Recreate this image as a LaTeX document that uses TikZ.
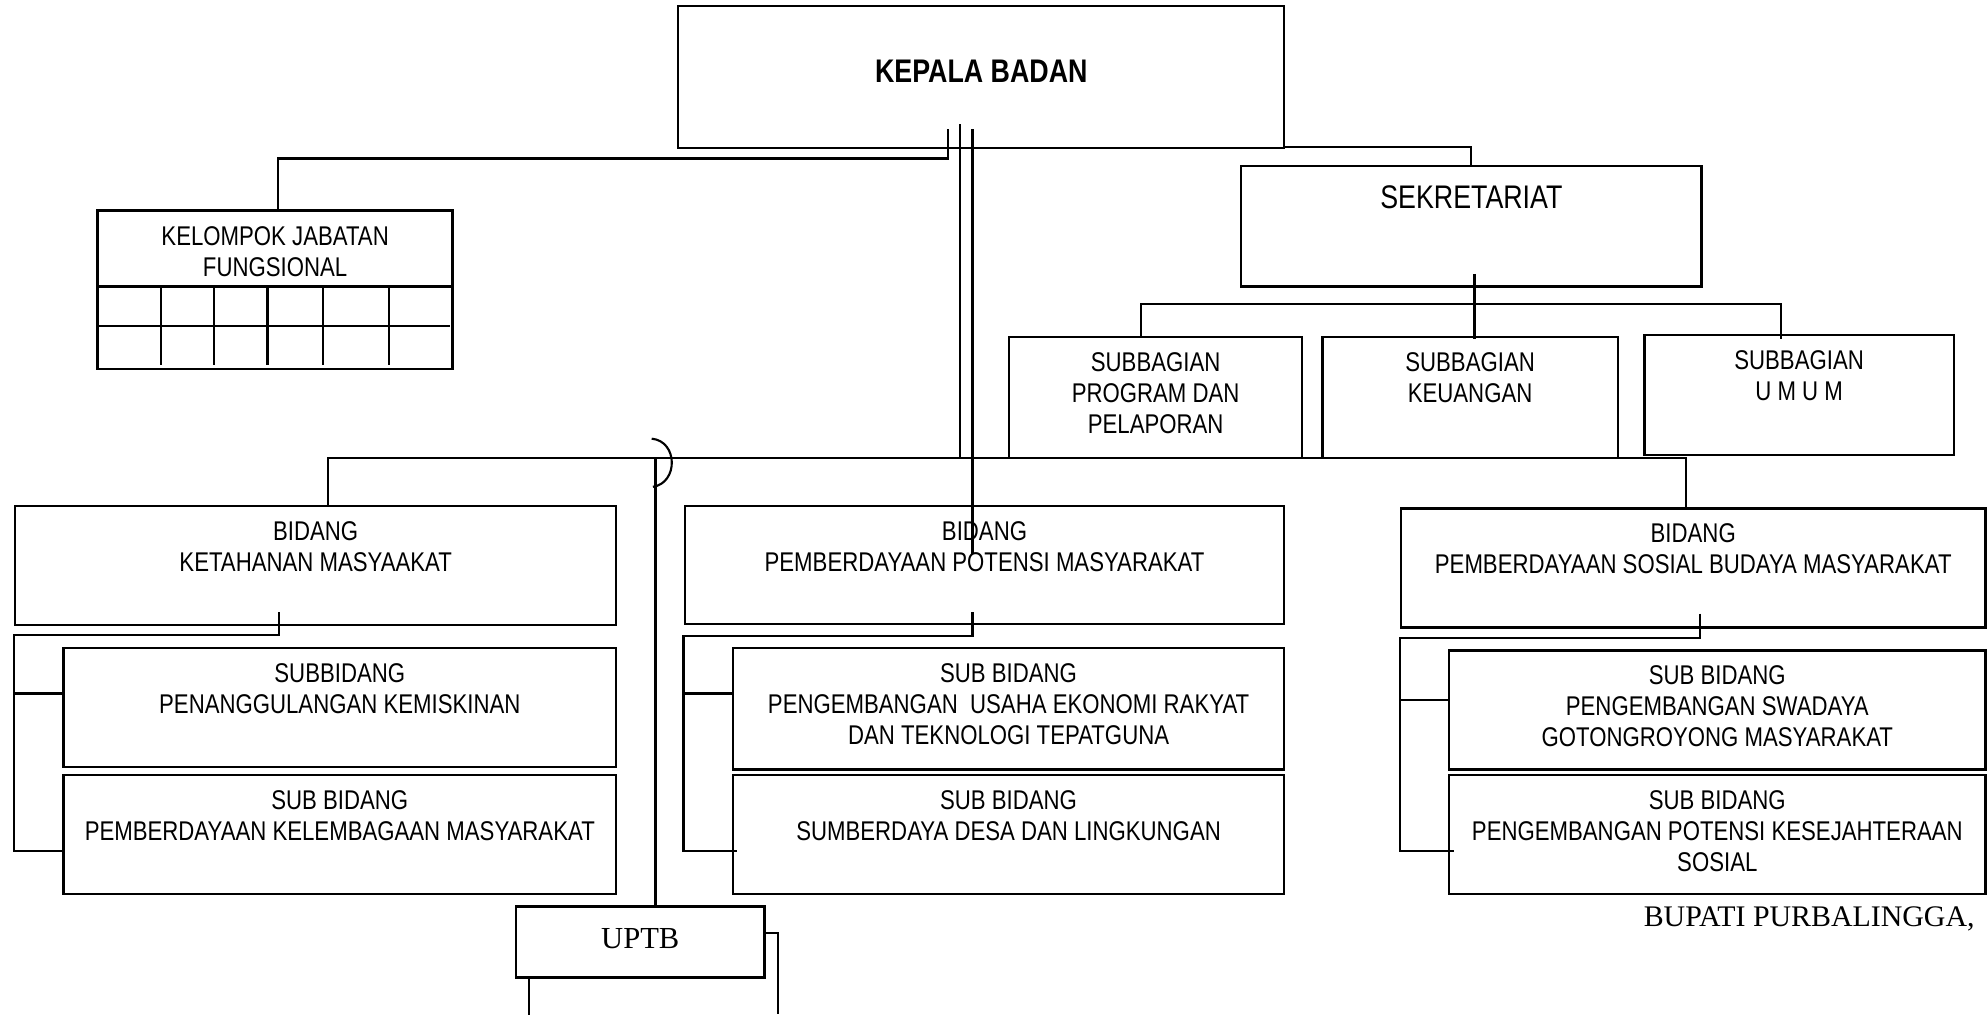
\documentclass[tikz,border=0pt]{standalone}
\usepackage{fontspec}
\setmainfont{Liberation Sans}[FakeStretch=0.82]
\newfontfamily\serifface{Liberation Serif}
\usetikzlibrary{calc,positioning,fit}

\tikzset{
  unit/.style={draw, inner sep=0pt, line width=0.65pt},
  caption/.style={align=center, inner sep=0pt, font=\fontsize{7.7}{8.84}\selectfont},
  link/.style={line width=0.6pt},
}

\begin{document}
\begin{tikzpicture}[x=0.012679cm, y=-0.012679cm]
  \useasboundingbox (0,0) rectangle (1568,800);

  % boxes
  \node[unit, fit={(535,5) (1013,117)}] (kepala) {};
  \node[unit, fit={(77,166) (357,291)}] (kelompok) {};
  \node[unit, fit={(979,131) (1342,226)}] (sekretariat) {};
  \node[unit, fit={(796,266) (1027,361)}] (program) {};
  \node[unit, fit={(1043,266) (1276,361)}] (keuangan) {};
  \node[unit, fit={(1297,264) (1541,359)}] (umum) {};
  \node[unit, fit={(12,399) (486,493)}] (ketahanan) {};
  \node[unit, fit={(540,399) (1013,492)}] (potensi) {};
  \node[unit, fit={(1105,401) (1566,495)}] (sosial) {};
  \node[unit, fit={(50,511) (486,605)}] (subK1) {};
  \node[unit, fit={(50,611) (486,705)}] (subK2) {};
  \node[unit, fit={(578,511) (1013,607)}] (subP1) {};
  \node[unit, fit={(578,611) (1013,705)}] (subP2) {};
  \node[unit, fit={(1143,513) (1566,607)}] (subS1) {};
  \node[unit, fit={(1143,611) (1566,705)}] (subS2) {};
  \node[unit, fit={(407,715) (603,771)}] (uptb) {};

  % texts
  \node[caption, font=\fontsize{9.3}{10.6}\selectfont\bfseries, below=5.4mm of kepala.north] (kepalaT) {KEPALA BADAN};
  \node[caption, below=1.7mm of kelompok.north] (kelompokT) {KELOMPOK JABATAN\\FUNGSIONAL};
  \node[caption, font=\fontsize{9.3}{10.6}\selectfont, below=2mm of sekretariat.north] (sekretariatT) {SEKRETARIAT};
  \node[caption, below=1.6mm of program.north] (programT) {SUBBAGIAN\\PROGRAM DAN\\PELAPORAN};
  \node[caption, below=1.6mm of keuangan.north] (keuanganT) {SUBBAGIAN\\KEUANGAN};
  \node[caption, below=1.6mm of umum.north] (umumT) {SUBBAGIAN\\U M U M};
  \node[caption, below=1.6mm of ketahanan.north] (ketahananT) {BIDANG\\KETAHANAN MASYAAKAT};
  \node[caption, below=1.6mm of potensi.north] (potensiT) {BIDANG\\PEMBERDAYAAN POTENSI MASYARAKAT};
  \node[caption, below=1.6mm of sosial.north] (sosialT) {BIDANG\\PEMBERDAYAAN SOSIAL BUDAYA MASYARAKAT};
  \node[caption, below=1.6mm of subK1.north] (subK1T) {SUBBIDANG\\PENANGGULANGAN KEMISKINAN};
  \node[caption, below=1.6mm of subK2.north] (subK2T) {SUB BIDANG\\PEMBERDAYAAN KELEMBAGAAN MASYARAKAT};
  \node[caption, below=1.6mm of subP1.north] (subP1T) {SUB BIDANG\\PENGEMBANGAN\ \ USAHA EKONOMI RAKYAT\\DAN TEKNOLOGI TEPATGUNA};
  \node[caption, below=1.6mm of subP2.north] (subP2T) {SUB BIDANG\\SUMBERDAYA DESA DAN LINGKUNGAN};
  \node[caption, below=1.6mm of subS1.north] (subS1T) {SUB BIDANG\\PENGEMBANGAN SWADAYA\\GOTONGROYONG MASYARAKAT};
  \node[caption, below=1.6mm of subS2.north] (subS2T) {SUB BIDANG\\PENGEMBANGAN POTENSI KESEJAHTERAAN\\SOSIAL};
  \node[inner sep=0pt, font=\serifface\fontsize{8.7}{10}\selectfont] (uptbT) at (505,740) {UPTB};
  \node[anchor=base east, inner sep=0pt, font=\serifface\fontsize{8.5}{10}\selectfont] (bupati) at (1558,730.5) {BUPATI PURBALINGGA,};

  % grid of the functional group
  \draw[link] (77,226) -- (357,226);
  \draw[link] (77,257) -- (355,257);
  \foreach \gx in {127,169,211,255,307}
    \draw[link] (\gx,226) -- (\gx,288);

  % lines out of the head
  \coordinate (kA) at (748,102);
  \coordinate (kB) at (757,98);
  \coordinate (kC) at (767,102);
  \coordinate (kCend) at (767,437);
  \coordinate (hop) at (517,362);
  \draw[link] (kA) -- ++(0,23) -| ($(kelompok.north)+(2,0)$);
  \draw[link] (kB) -- (kB |- hop);
  \draw[link] (kC) -- (kCend);
  \draw[link] ($(kepala.south east)+(0,-2)$) -| (sekretariat.north);

  % secretariat
  \coordinate (sA) at (1163,216);
  \draw[link] (sA) -- ($(keuangan.north)+(3.5,2)$);
  \draw[link] ($(program.north)+(-11.5,0)$) |- ($(umum.north)+(-14,-23)$) -- ($(umum.north)+(-14,4)$);

  % bus to the bidang boxes
  \draw[link] ($(ketahanan.north)+(10,0)$) |- ($(sosial.north)+(-5.5,-39)$) -- ($(sosial.north)+(-5.5,0)$);

  % UPTB
  \draw[link] (514,346) .. controls (535,348) and (535,381) .. (515,384);
  \draw[link] (hop) -- (hop |- uptb.north);
  \draw[link] ($(uptb.east)+(0,-7)$) -| ++(10,64);
  \draw[link] ($(uptb.south west)+(11,0)$) -- ++(0,29);

  % sub bidang
  \draw[link] ($(ketahanan.south)+(-29,-11)$) -- ++(0,18) -| ($(subK2.west)+(-38,13)$) -- ($(subK2.west)+(0,13)$);
  \draw[link] ($(subK1.west)+(-38,-11)$) -- ($(subK1.west)+(0,-11)$);
  \draw[link] ($(potensi.south)+(-9.5,-10)$) -- ++(0,19) -| ($(subP2.west)+(-38,13)$) -- ($(subP2.west)+(4,13)$);
  \draw[link] ($(subP1.west)+(-38,-12)$) -- ($(subP1.west)+(0,-12)$);
  \draw[link] ($(sosial.south)+(5.5,-12)$) -- ++(0,19) -| ($(subS2.west)+(-38,13)$) -- ($(subS2.west)+(5,13)$);
  \draw[link] ($(subS1.west)+(-38,-8)$) -- ($(subS1.west)+(0,-8)$);
\end{tikzpicture}
\end{document}
